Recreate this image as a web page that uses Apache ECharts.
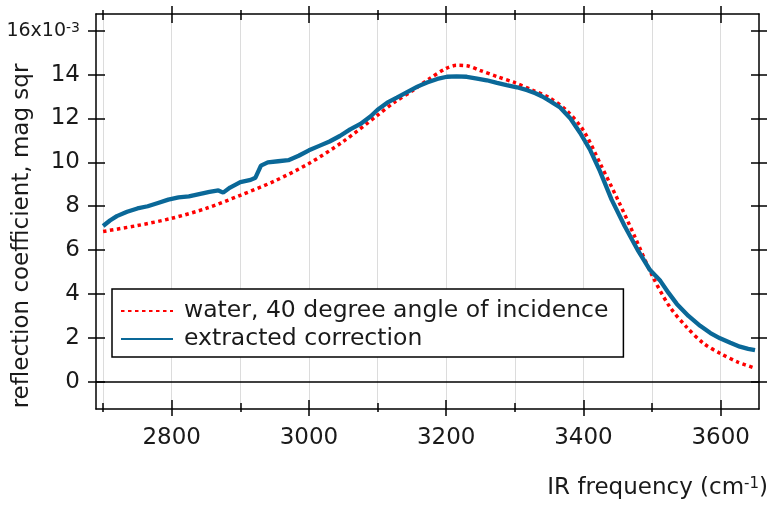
<!DOCTYPE html>
<html>
<head>
<meta charset="utf-8">
<script src="https://cdn.jsdelivr.net/npm/echarts@6/dist/echarts.min.js"></script>
<style>html,body{margin:0;padding:0;background:#fff}#c{width:770px;height:506px}</style>
</head>
<body>
<div id="c"></div>
<script>
// ---- data ----
const seriesNames = ['water, 40 degree angle of incidence', 'extracted correction'];
const redFreq = [2700, 2750, 2800, 2850, 2900, 2950, 3000, 3050, 3100, 3125, 3150, 3175, 3200, 3215, 3230, 3250, 3275, 3300, 3325, 3350, 3375, 3400, 3425, 3450, 3475, 3500, 3525, 3550, 3575, 3600, 3625, 3650];
const redVal = [6.85, 7.12, 7.45, 7.9, 8.5, 9.15, 9.95, 10.95, 12.15, 12.75, 13.25, 13.8, 14.28, 14.42, 14.4, 14.18, 13.9, 13.63, 13.3, 12.95, 12.38, 11.45, 9.9, 8.3, 6.6, 4.85, 3.45, 2.5, 1.75, 1.28, 0.9, 0.62];
const blueFreq = [2700, 2710, 2720, 2735, 2750, 2765, 2780, 2795, 2810, 2825, 2840, 2855, 2868, 2875, 2885, 2900, 2915, 2922, 2930, 2940, 2955, 2970, 2985, 3000, 3015, 3030, 3045, 3060, 3075, 3090, 3100, 3114, 3128, 3143, 3158, 3172, 3187, 3201, 3215, 3230, 3245, 3259, 3274, 3288, 3303, 3318, 3330, 3340, 3352, 3366, 3381, 3395, 3410, 3424, 3441, 3460, 3480, 3497, 3512, 3524, 3536, 3553, 3570, 3585, 3599, 3614, 3628, 3640, 3650];
const blueVal = [7.1, 7.35, 7.55, 7.75, 7.9, 8.0, 8.15, 8.3, 8.4, 8.45, 8.55, 8.65, 8.72, 8.62, 8.85, 9.1, 9.2, 9.3, 9.85, 10.0, 10.05, 10.1, 10.3, 10.55, 10.75, 10.95, 11.2, 11.5, 11.75, 12.1, 12.4, 12.72, 12.95, 13.2, 13.45, 13.64, 13.8, 13.9, 13.92, 13.9, 13.82, 13.74, 13.62, 13.52, 13.42, 13.29, 13.15, 13.0, 12.78, 12.5, 12.0, 11.35, 10.55, 9.6, 8.3, 7.1, 5.95, 5.09, 4.6, 4.05, 3.55, 3.0, 2.55, 2.22, 1.98, 1.78, 1.6, 1.5, 1.44];
const xMajorTicks = [2800, 3000, 3200, 3400, 3600];
const xMinorTicks = [2700, 2900, 3100, 3300, 3500];
const xGridLines = [2700, 2800, 2900, 3000, 3100, 3200, 3300, 3400, 3500, 3600];
const yTicks = [0, 2, 4, 6, 8, 10, 12, 14, 16];
const xTitle = 'IR frequency (cm{sup|-1})';
const yTitle = 'reflection coefficient, mag sqr';

// ---- chart ----
const F = 'DejaVu Sans';
const TXT = '#1a1a1a';
const FS = 23;
const xMin = 2689.65, xMax = 3655.8, yMin = -1.24, yMax = 16.76;
const tickStyle = {color: '#000', width: 1.5};

function xa(extra) {
  return Object.assign({
    type: 'value', min: xMin, max: xMax, gridIndex: 0,
    splitLine: {show: false}, axisLabel: {show: false},
    axisTick: {show: false}, axisLine: {show: false, onZero: false}
  }, extra);
}
function ya(extra) {
  return Object.assign({
    type: 'value', min: yMin, max: yMax, gridIndex: 0,
    splitLine: {show: false}, axisLabel: {show: false},
    axisTick: {show: false}, axisLine: {show: false, onZero: false}
  }, extra);
}

const chart = echarts.init(document.getElementById('c'), null, {renderer: 'canvas'});
chart.setOption({
  animation: false,
  backgroundColor: '#fff',
  grid: {left: 96, top: 14, right: 11, bottom: 97, containLabel: false},
  xAxis: [
    xa({position: 'bottom',
        axisLine: {show: true, onZero: false, lineStyle: {color: '#000', width: 1.5}},
        axisLabel: {show: true, customValues: xMajorTicks, fontSize: FS, margin: 18, color: TXT, fontFamily: F,
          formatter: v => String(v)},
        axisTick: {show: false, customValues: xGridLines},
        splitLine: {show: true, lineStyle: {color: '#dcdcdc', width: 1}}}),
    xa({position: 'bottom', offset: -9, axisTick: {show: true, customValues: xMajorTicks, length: 16, lineStyle: tickStyle}}),
    xa({position: 'bottom', offset: -6, axisTick: {show: true, customValues: xMinorTicks, length: 9, lineStyle: tickStyle}}),
    xa({position: 'top', axisLine: {show: true, onZero: false, lineStyle: {color: '#000', width: 1.5}}}),
    xa({position: 'top', offset: -9, axisTick: {show: true, customValues: xMajorTicks, length: 17, lineStyle: tickStyle}}),
    xa({position: 'top', offset: -6, axisTick: {show: true, customValues: xMinorTicks, length: 10, lineStyle: tickStyle}})
  ],
  yAxis: [
    ya({position: 'left',
        axisLine: {show: true, onZero: false, lineStyle: {color: '#000', width: 1.5}},
        axisLabel: {show: true, customValues: yTicks, fontSize: FS, margin: 16, color: TXT, fontFamily: F,
          formatter: v => v === 16 ? '{small|16x10}{sup|-3}' : String(v),
          rich: {
            small: {fontSize: 19, color: TXT, fontFamily: F},
            sup: {fontSize: 14, verticalAlign: 'top', color: TXT, fontFamily: F}
          }}}),
    ya({position: 'left', offset: -9, axisTick: {show: true, customValues: yTicks, length: 17, lineStyle: tickStyle}}),
    ya({position: 'right', axisLine: {show: true, onZero: false, lineStyle: {color: '#000', width: 1.5}}}),
    ya({position: 'right', offset: -8, axisTick: {show: true, customValues: yTicks, length: 16, lineStyle: tickStyle}})
  ],
  legend: {
    orient: 'vertical', left: 112, top: 289,
    padding: [10, 15, 6, 8], itemGap: 4, itemWidth: 52, itemHeight: 14,
    borderColor: '#000', borderWidth: 1.5, borderRadius: 0, backgroundColor: '#fff',
    textStyle: {fontSize: 23.5, color: TXT, fontFamily: F, lineHeight: 24, padding: [0, 0, 0, 6]},
    data: [
      {name: seriesNames[0], itemStyle: {opacity: 0}},
      {name: seriesNames[1], itemStyle: {opacity: 0}}
    ]
  },
  series: [
    {
      name: seriesNames[0], type: 'line', xAxisIndex: 0, yAxisIndex: 0,
      data: redFreq.map((f, i) => [f, redVal[i]]),
      symbol: 'none', showSymbol: false, smooth: 0.3,
      lineStyle: {color: '#ff0000', width: 3.5, type: [3.5, 3.5]},
      itemStyle: {color: '#ff0000'},
      markLine: {
        silent: true, symbol: ['none', 'none'], animation: false,
        label: {show: false},
        lineStyle: {color: '#000', type: 'solid', width: 1.5},
        data: [{yAxis: 0}]
      }
    },
    {
      name: seriesNames[1], type: 'line', xAxisIndex: 0, yAxisIndex: 0,
      data: blueFreq.map((f, i) => [f, blueVal[i]]),
      symbol: 'none', showSymbol: false,
      lineStyle: {color: '#0a6898', width: 4.3},
      itemStyle: {color: '#0a6898'}
    }
  ],
  graphic: [
    {type: 'text', right: 2, top: 477,
     style: {text: xTitle, fontSize: FS, fill: TXT, fontFamily: F,
       rich: {sup: {fontSize: 15, verticalAlign: 'top', fill: TXT, fontFamily: F}}}},
    {type: 'text', x: 22, y: 236, rotation: Math.PI / 2,
     style: {text: yTitle, fontSize: FS, fill: TXT, fontFamily: F, align: 'center', verticalAlign: 'middle'}}
  ]
});
</script>
</body>
</html>
